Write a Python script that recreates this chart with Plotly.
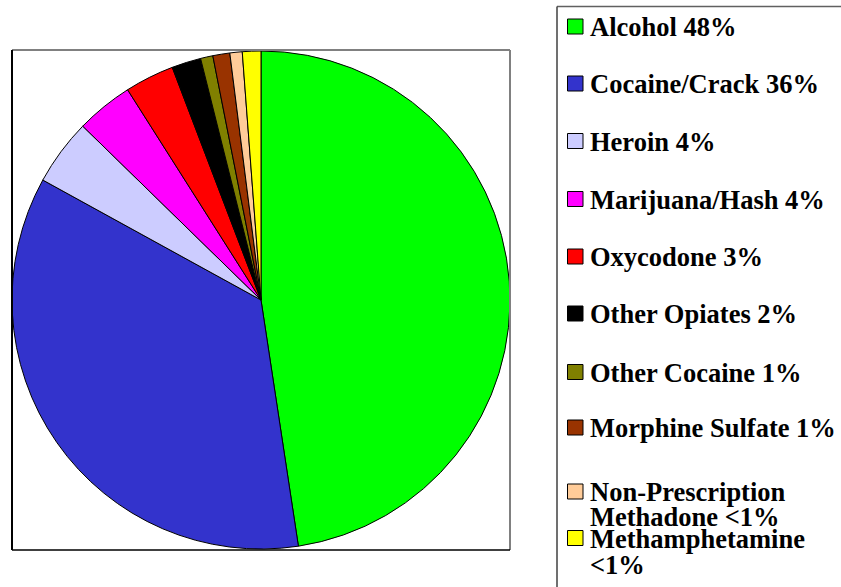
import plotly.graph_objects as go

W, H = 841, 587
OFF = 0

labels = ["Alcohol", "Cocaine/Crack", "Heroin", "Marijuana/Hash", "Oxycodone",
          "Other Opiates", "Other Cocaine", "Morphine Sulfate",
          "Non-Prescription Methadone", "Methamphetamine"]
values = [47.6, 35.4, 4.3, 3.7, 3.2, 1.9, 0.8, 1.1, 0.8, 1.2]
colors = ["#00FF00", "#3333CC", "#CCCCFF", "#FF00FF", "#FF0000",
          "#000000", "#808000", "#993300", "#FFCC99", "#FFFF00"]
legend_text = [["Alcohol 48%"], ["Cocaine/Crack 36%"], ["Heroin 4%"],
               ["Marijuana/Hash 4%"], ["Oxycodone 3%"], ["Other Opiates 2%"],
               ["Other Cocaine 1%"], ["Morphine Sulfate 1%"],
               ["Non-Prescription", "Methadone <1%"], ["Methamphetamine", "<1%"]]
legend_y = [26.5, 83.5, 141, 199, 256.5, 313.5, 372, 427.5, 491.5, 538]
line_gap = [0, 0, 0, 0, 0, 0, 0, 0, 25, 26]


def px(x):
    return (x - OFF) / W


def py(y):
    return 1 - (y - OFF) / H


fig = go.Figure()
fig.add_trace(go.Pie(
    labels=labels, values=values, sort=False, direction="clockwise", rotation=0,
    marker=dict(colors=colors, line=dict(color="#000000", width=1)),
    textinfo="none", showlegend=False,
    domain=dict(x=[px(12), px(510)], y=[py(550), py(50)]),
))

shapes = []
# plot area frame
shapes.append(dict(type="line", xref="paper", yref="paper", x0=px(12), x1=px(510), y0=py(50), y1=py(50),
                   line=dict(color="#808080", width=2)))
shapes.append(dict(type="line", xref="paper", yref="paper", x0=px(510), x1=px(510), y0=py(50), y1=py(550),
                   line=dict(color="#808080", width=2)))
shapes.append(dict(type="line", xref="paper", yref="paper", x0=px(12), x1=px(12), y0=py(50), y1=py(550),
                   line=dict(color="#000000", width=2)))
shapes.append(dict(type="line", xref="paper", yref="paper", x0=px(12), x1=px(510), y0=py(550), y1=py(550),
                   line=dict(color="#000000", width=1.5)))
# legend frame
shapes.append(dict(type="line", xref="paper", yref="paper", x0=px(557), x1=px(841), y0=py(6.5), y1=py(6.5),
                   line=dict(color="#606060", width=1.5)))
shapes.append(dict(type="line", xref="paper", yref="paper", x0=px(557), x1=px(557), y0=py(6.5), y1=py(587),
                   line=dict(color="#404040", width=1.5)))

annotations = []
for i, lines in enumerate(legend_text):
    yc = legend_y[i]
    shapes.append(dict(type="rect", xref="paper", yref="paper",
                       x0=px(567.5), x1=px(583), y0=py(yc - 7.5), y1=py(yc + 7.5),
                       fillcolor=colors[i], line=dict(color="#000000", width=1)))
    for j, t in enumerate(lines):
        annotations.append(dict(
            xref="paper", yref="paper", x=px(588), y=py(yc + 0.5 + j * line_gap[i]),
            xanchor="left", yanchor="middle", text="<b>" + t + "</b>", showarrow=False,
            font=dict(family="Liberation Serif, Times New Roman, serif", size=26.5, color="#000000"),
        ))

fig.update_layout(
    width=W, height=H, margin=dict(l=0, r=0, t=0, b=0),
    paper_bgcolor="#FFFFFF", plot_bgcolor="#FFFFFF",
    shapes=shapes, annotations=annotations, showlegend=False,
)

fig.write_html("out.html", config={"displayModeBar": False},
               post_script="document.body.style.margin='0px';")
